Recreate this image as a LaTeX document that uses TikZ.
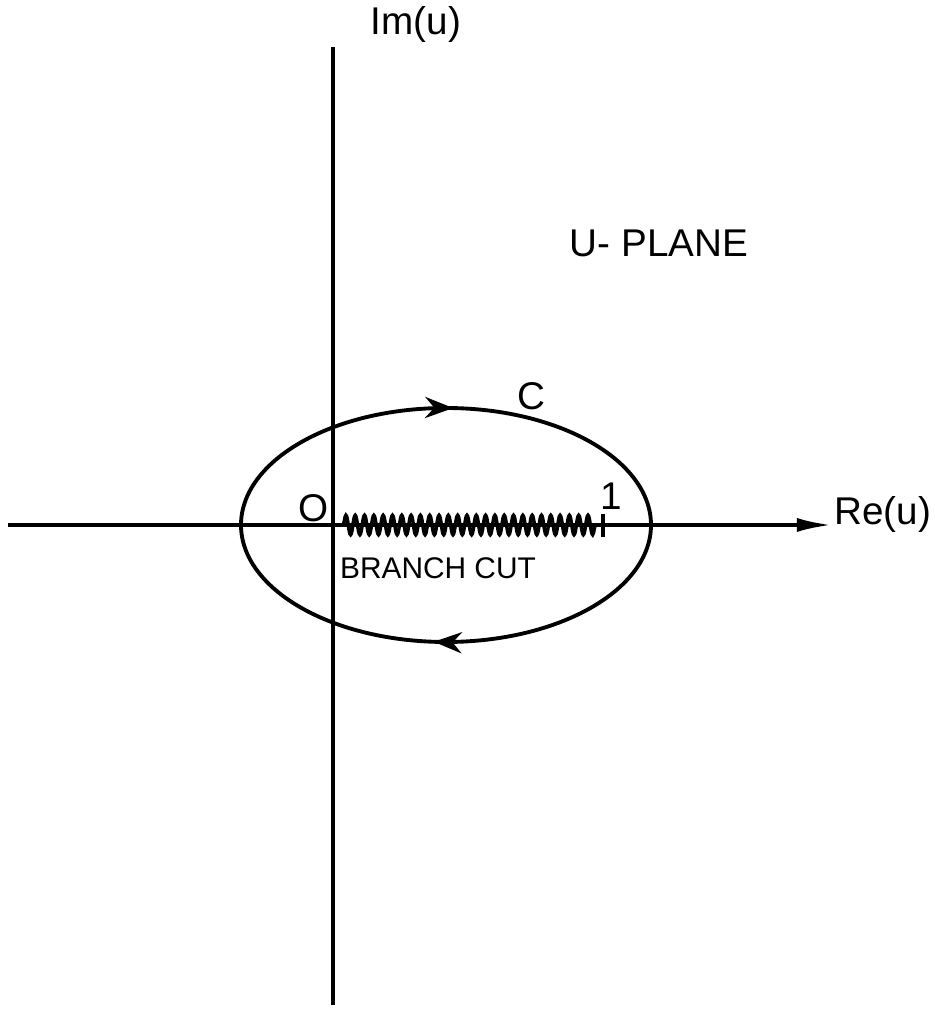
\documentclass[tikz,border=0pt]{standalone}
\usepackage{fontspec}
\setsansfont{Liberation Sans}
\usetikzlibrary{arrows.meta,decorations.pathmorphing,decorations.markings}

\begin{document}
\begin{tikzpicture}[
  x=0.02cm, y=0.02cm,
  font=\sffamily\fontsize{22}{26}\selectfont,
  axis/.style={line width=2.2pt, draw=black},
  contour/.style={line width=2.2pt, draw=black, postaction={decorate}, decoration={markings,
      mark=at position 0.262 with {\arrow{Stealth[length=16pt,width=12pt]}},
      mark=at position 0.757 with {\arrow{Stealth[length=16pt,width=12pt]}}}},
  cut/.style={line width=2pt, decorate, decoration={snake, amplitude=5.5pt, segment length=5.3pt}},
  lbl/.style={inner sep=0pt, text=black},
  small/.style={lbl, font=\sffamily\fontsize{17}{20}\selectfont},
]
\useasboundingbox (0,0) rectangle (934,1010);
\coordinate (o) at (333,485);
\coordinate (imtop) at (333,963);
\coordinate (imbot) at (333,5);
\coordinate (rew) at (8,485);
\coordinate (ree) at (832,485);
\coordinate (cuta) at (343,485);
\coordinate (cutb) at (597,485);
\coordinate (one) at (603,485);
\draw[axis] (imbot) -- (imtop);
\draw[axis, -{Latex[length=20pt,width=8pt]}] (rew) -- (ree);
\draw[contour] (651,485) arc[start angle=0, end angle=-360, x radius=205, y radius=117];
\draw[cut] (cuta) -- (cutb);
\draw[line width=1.8pt] (cutb) -- (one);
\draw[line width=1.8pt] ([yshift=-7]one) -- ([yshift=6]one);
\node[lbl] (im) at (416,985) {Im(u)};
\node[lbl, anchor=west] (re) at (834,495) {Re(u)};
\node[lbl] (plane) at (659,767) {U- PLANE};
\node[lbl] (cl) at (531,614) {C};
\node[lbl] (orig) at (314,502) {O};
\node[lbl] (onelbl) at (611,514) {1};
\node[small] (cutlbl) at (438,442) {BRANCH CUT};
\end{tikzpicture}
\end{document}
